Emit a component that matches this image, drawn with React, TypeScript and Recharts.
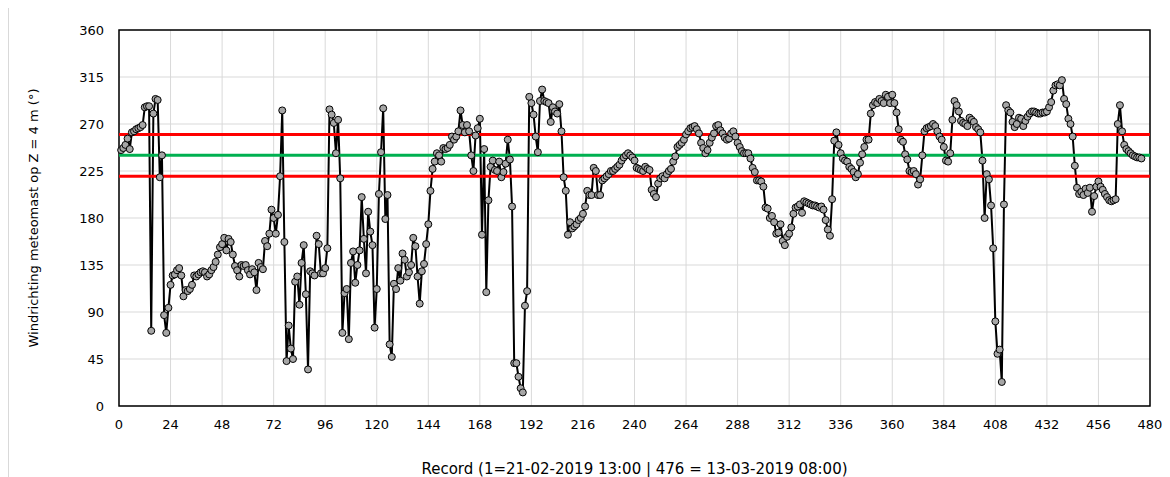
import React from 'react';
import {
  LineChart,
  Line,
  XAxis,
  YAxis,
  CartesianGrid,
  ReferenceLine,
  ReferenceArea,
  Label,
} from 'recharts';

// Wind direction (degrees) per record, records 1..476
const windDirection: number[] = [
  245, 247, 250, 256, 246, 262, 263, 265, 266, 267, 269, 286, 287, 287, 72, 280, 294, 293, 219, 240,
  87, 70, 94, 116, 125, 126, 130, 132, 125, 105, 111, 110, 112, 116, 125, 124, 126, 128, 129, 128,
  124, 126, 130, 133, 138, 145, 152, 155, 161, 149, 160, 157, 145, 134, 130, 124, 135, 134, 135, 130,
  126, 131, 128, 111, 137, 133, 131, 158, 153, 165, 188, 180, 165, 183, 220, 283, 157, 43, 77, 55,
  45, 119, 124, 97, 137, 154, 107, 35, 129, 127, 125, 163, 155, 127, 127, 132, 151, 284, 279, 271,
  242, 274, 218, 70, 108, 112, 64, 137, 148, 118, 135, 149, 200, 160, 127, 186, 167, 154, 75, 112,
  203, 243, 285, 179, 202, 59, 47, 117, 112, 132, 120, 146, 140, 124, 128, 135, 161, 153, 124, 98,
  129, 136, 155, 174, 206, 227, 234, 242, 240, 234, 247, 246, 247, 250, 258, 255, 258, 263, 283, 269,
  262, 269, 263, 240, 225, 259, 266, 275, 164, 246, 109, 197, 229, 235, 226, 225, 234, 219, 224, 232,
  255, 236, 191, 41, 41, 28, 17, 13, 96, 110, 296, 290, 279, 258, 243, 292, 303, 292, 291, 290,
  272, 286, 282, 280, 289, 263, 219, 206, 164, 176, 170, 172, 174, 178, 180, 184, 191, 206, 202, 202,
  228, 225, 202, 202, 216, 218, 220, 222, 225, 225, 227, 229, 231, 235, 238, 240, 242, 240, 238, 235,
  228, 227, 226, 225, 229, 227, 226, 207, 203, 200, 213, 218, 220, 218, 222, 225, 227, 234, 239, 248,
  250, 252, 255, 260, 263, 266, 267, 268, 265, 261, 252, 247, 242, 245, 252, 257, 261, 268, 269, 264,
  261, 257, 255, 256, 261, 263, 258, 252, 248, 244, 242, 242, 242, 237, 228, 224, 216, 216, 215, 210,
  190, 189, 180, 182, 176, 165, 166, 174, 158, 154, 162, 165, 171, 184, 190, 191, 193, 185, 196, 195,
  194, 193, 192, 192, 191, 190, 191, 188, 178, 169, 163, 198, 254, 262, 250, 242, 237, 235, 234, 229,
  227, 224, 219, 222, 233, 241, 248, 255, 255, 280, 288, 291, 290, 294, 292, 290, 298, 296, 290, 298,
  290, 281, 265, 255, 253, 241, 236, 225, 224, 225, 222, 212, 217, 240, 263, 266, 267, 268, 270, 268,
  263, 258, 255, 248, 235, 234, 242, 274, 292, 288, 282, 273, 271, 270, 268, 276, 274, 272, 267, 265,
  262, 235, 180, 222, 217, 192, 151, 81, 50, 54, 23, 193, 288, 283, 281, 272, 267, 270, 276, 275,
  268, 273, 277, 280, 282, 282, 281, 280, 280, 281, 281, 282, 286, 291, 302, 307, 308, 307, 312, 294,
  289, 275, 270, 258, 230, 209, 203, 205, 202, 208, 204, 209, 186, 201, 210, 215, 210, 207, 203, 200,
  197, 196, 197, 198, 270, 288, 263, 250, 246, 244, 242, 240, 239, 238, 238, 237,
];

const xTicks: number[] = [0, 24, 48, 72, 96, 120, 144, 168, 192, 216, 240, 264, 288, 312, 336, 360, 384, 408, 432, 456, 480];
const yTicks: number[] = [0, 45, 90, 135, 180, 225, 270, 315, 360];

const upperLimit = 260;
const targetDirection = 240;
const lowerLimit = 220;

const xTitle = 'Record (1=21-02-2019 13:00 | 476 = 13-03-2019 08:00)';
const yTitle = 'Windrichting meteomast op Z = 4 m (°)';

const data = windDirection.map((v, i) => ({ record: i + 1, dir: v }));

const FONT = '"DejaVu Sans", Verdana, sans-serif';

const YTitle = (props: any) => {
  const vb = props.viewBox || {};
  const cx = (vb.x ?? 0) + 24;
  const cy = (vb.y ?? 0) + (vb.height ?? 0) / 2;
  return (
    <text
      x={cx}
      y={cy}
      transform={`rotate(-90, ${cx}, ${cy})`}
      textAnchor="middle"
      dominantBaseline="central"
      fontFamily={FONT}
      fontSize={13}
      fill="#000"
    >
      {yTitle}
    </text>
  );
};

export default function App() {
  return (
    <div
      style={{
        width: 1155,
        height: 469,
        borderLeft: '1px solid #d9d9d9',
        borderRight: '1px solid #d9d9d9',
        borderBottom: '1px solid #d9d9d9',
        background: '#fff',
      }}
    >
      <LineChart
        width={1155}
        height={469}
        data={data}
        margin={{ top: 22, right: 14, bottom: 0, left: 0 }}
      >
        <CartesianGrid stroke="#d9d9d9" strokeWidth={1} />
        <XAxis
          dataKey="record"
          type="number"
          domain={[0, 480]}
          ticks={xTicks}
          interval={0}
          height={71}
          axisLine={false}
          tickLine={false}
          tickMargin={8}
          tick={{ fontFamily: FONT, fontSize: 13, fill: '#000' }}
        >
          <Label
            value={xTitle}
            position="insideBottom"
            offset={3}
            style={{ fontFamily: FONT, fontSize: 15, fill: '#000' }}
          />
        </XAxis>
        <YAxis
          type="number"
          domain={[0, 360]}
          ticks={yTicks}
          interval={0}
          width={110}
          axisLine={false}
          tickLine={false}
          tickMargin={9}
          tick={{ fontFamily: FONT, fontSize: 13, fill: '#000' }}
        >
          <Label content={<YTitle />} />
        </YAxis>
        <ReferenceArea x1={0} x2={480} y1={0} y2={360} fill="none" stroke="#000" strokeWidth={1.5} fillOpacity={0} />
        <Line
          type="linear"
          dataKey="dir"
          stroke="#000"
          strokeWidth={2}
          dot={{ r: 3.5, fill: '#a6a6a6', stroke: '#000', strokeWidth: 1 }}
          activeDot={false}
          isAnimationActive={false}
        />
        <ReferenceLine y={upperLimit} stroke="#ff0000" strokeWidth={3} />
        <ReferenceLine y={lowerLimit} stroke="#ff0000" strokeWidth={3} />
        <ReferenceLine y={targetDirection} stroke="#00b050" strokeWidth={3} />
      </LineChart>
    </div>
  );
}
